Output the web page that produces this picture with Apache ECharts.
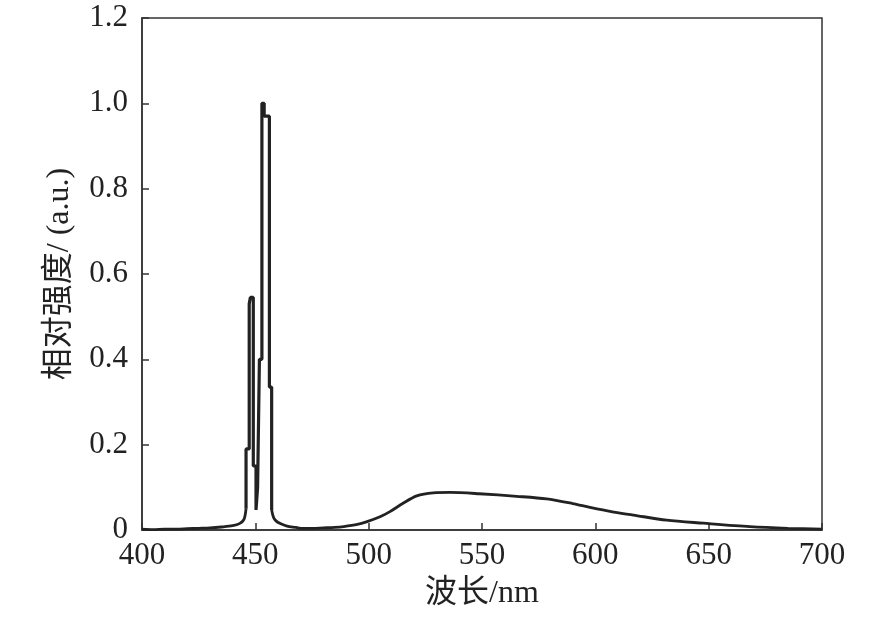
<!DOCTYPE html>
<html><head><meta charset="utf-8">
<script src="https://cdn.jsdelivr.net/npm/echarts@6/dist/echarts.min.js"></script>
<style>html,body{margin:0;padding:0;background:#fff}#c{width:886px;height:620px}</style>
</head><body><div id="c"></div>
<script>
// Baseline before the blue peaks
const baseWl  = [400,405,410,415,420,425,430,435,440,443,445,445.9];
const baseVal = [0.002,0.001,0.002,0.002,0.003,0.004,0.005,0.007,0.010,0.015,0.025,0.05];
// Stepped double peak (step: value holds until next wavelength)
const peakWl  = [445.9,445.9,447.3,447.8,449.1,450.3,451.0,451.8,452.9,453.9,456.2,457.2];
const peakVal = [0.05,0.19,0.53,0.545,0.15,0.047,0.10,0.40,1.00,0.97,0.335,0.047];
// Tail and broad phosphor band
const tailWl  = [457.2,458,459,461,464,468,470,475,480,485,489,495,499,505,509.4,515,521.2,528.5,535.9,548.7,565.3,578.5,590,597.6,607,616.8,631.5,647.7,668.2,685,700];
const tailVal = [0.047,0.03,0.022,0.015,0.009,0.006,0.004,0.004,0.005,0.006,0.008,0.013,0.019,0.031,0.043,0.062,0.080,0.087,0.088,0.085,0.079,0.073,0.062,0.053,0.043,0.035,0.023,0.016,0.008,0.004,0.002];
const xTicks = [400,450,500,550,600,650,700];
const yTicks = [0,0.2,0.4,0.6,0.8,1.0,1.2];

const zip = (a,b)=>a.map((v,i)=>[v,b[i]]);
const serif = '"Liberation Serif","Times New Roman","Noto Sans CJK SC",serif';
const lineStyle = {color:'#222', width:2.8};
const chart = echarts.init(document.getElementById('c'));
chart.setOption({
  animation:false,
  grid:{left:142,right:64,top:18,bottom:90,show:true,borderColor:'#333',borderWidth:1.5,backgroundColor:'transparent'},
  xAxis:{type:'value',min:xTicks[0],max:xTicks[xTicks.length-1],interval:50,
    name:'波长/nm',nameLocation:'middle',nameGap:48,
    nameTextStyle:{fontFamily:serif,fontSize:32,color:'#222'},
    axisLine:{lineStyle:{color:'#333',width:1.5}},
    axisTick:{inside:true,length:7,lineStyle:{color:'#333',width:1.5}},
    axisLabel:{fontFamily:serif,fontSize:31,color:'#222',margin:10},
    splitLine:{show:false}},
  yAxis:{type:'value',min:yTicks[0],max:yTicks[yTicks.length-1],interval:0.2,
    name:'相对强度/ (a.u.)',nameLocation:'middle',nameGap:66,nameRotate:90,
    nameTextStyle:{fontFamily:serif,fontSize:32,color:'#222'},
    axisLine:{lineStyle:{color:'#333',width:1.5}},
    axisTick:{inside:true,length:7,lineStyle:{color:'#333',width:1.5}},
    axisLabel:{fontFamily:serif,fontSize:31,color:'#222',margin:14,
      formatter:v=>v===0?'0':v.toFixed(1)},
    splitLine:{show:false}},
  series:[
    {type:'line',data:zip(baseWl,baseVal),showSymbol:false,lineStyle,smooth:0.3},
    {type:'line',data:zip(peakWl,peakVal),showSymbol:false,lineStyle:{color:'#222',width:3.2},step:'end'},
    {type:'line',data:zip(tailWl,tailVal),showSymbol:false,lineStyle,smooth:0.3}
  ]
});
</script></body></html>
